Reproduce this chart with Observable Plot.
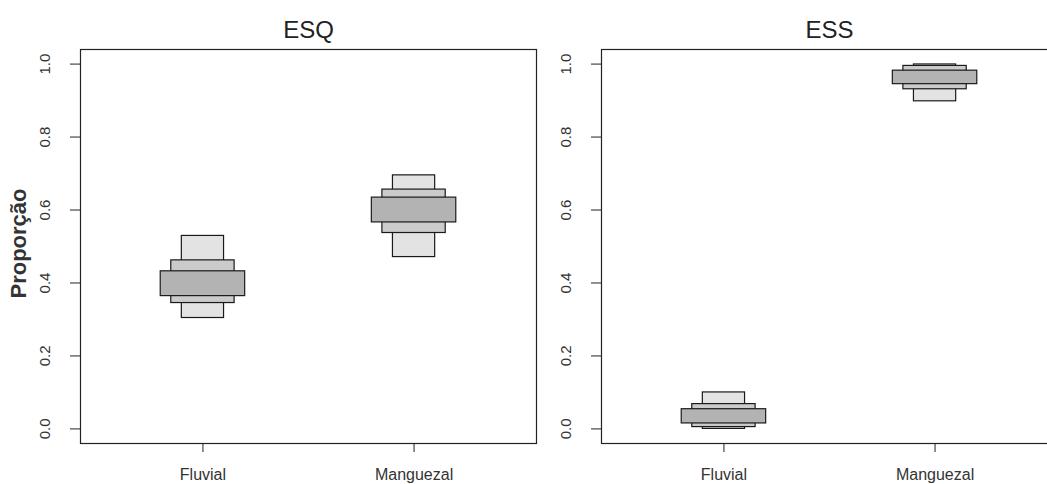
<!DOCTYPE html>
<html><head><meta charset="utf-8">
<script src="https://cdn.jsdelivr.net/npm/d3@7"></script>
<script src="https://cdn.jsdelivr.net/npm/@observablehq/plot@0.6"></script>
<style>
html,body{margin:0;padding:0;background:#fff}
body{overflow:hidden;width:1047px;height:484px;position:relative;font-family:"Liberation Sans",Arial,sans-serif}
#left,#right{position:absolute;top:0}
#left{left:0;width:560px}
#right{left:536px;width:521px}
svg{max-width:none !important}
</style></head><body><div id="left"></div><div id="right"></div>
<script>
// ---- data ----
const categories = ["Fluvial", "Manguezal"];
const panelTitles = ["ESQ", "ESS"];
const yLabel = "Proporção";
const yTicks = [0, 0.2, 0.4, 0.6, 0.8, 1.0];

// ESQ intervals (Fluvial, Manguezal)
const esqLow95  = [0.304, 0.471];
const esqHigh95 = [0.529, 0.695];
const esqLow80  = [0.345, 0.537];
const esqHigh80 = [0.462, 0.656];
const esqLow50  = [0.364, 0.566];
const esqHigh50 = [0.432, 0.634];

// ESS intervals (Fluvial, Manguezal)
const essLow95  = [0.000, 0.898];
const essHigh95 = [0.100, 0.999];
const essLow80  = [0.005, 0.931];
const essHigh80 = [0.068, 0.995];
const essLow50  = [0.015, 0.945];
const essHigh50 = [0.054, 0.982];

// ---- styles ----
const levels = [
  {half: 0.10, fill: "#e3e3e3"},
  {half: 0.15, fill: "#cbcbcb"},
  {half: 0.20, fill: "#b3b3b3"}
];
const FONT = "'Liberation Sans', Arial, Helvetica, sans-serif";

function rows(lows, highs, half) {
  return categories.map((c, i) => ({x1: i + 1 - half, x2: i + 1 + half, y1: lows[i], y2: highs[i]}));
}

function panel(title, lowsList, highsList, {width, marginLeft, marginRight, showYLabel}) {
  const marks = [];
  levels.forEach((lv, k) => {
    marks.push(Plot.rect(rows(lowsList[k], highsList[k], lv.half), {
      x1: "x1", x2: "x2", y1: "y1", y2: "y2",
      fill: lv.fill, stroke: "#1a1a1a", strokeWidth: 1.2
    }));
  });
  marks.push(Plot.frame({stroke: "#222", strokeWidth: 1.2}));
  marks.push(Plot.axisY({
    ticks: yTicks, tickFormat: d3.format(".1f"), tickSize: 10, tickPadding: 21,
    tickRotate: -90, fontSize: 15, label: null, stroke: "#222", fill: "#333"
  }));
  marks.push(Plot.axisX({
    ticks: [1, 2], tickFormat: d => categories[d - 1], tickSize: 9, tickPadding: 16,
    fontSize: 16, label: null, stroke: "#222", fill: "#333"
  }));
  marks.push(Plot.text([title], {text: d => d, frameAnchor: "top", dy: -19, fontSize: 24, fill: "#222", lineAnchor: "middle"}));
  if (showYLabel) {
    marks.push(Plot.text([yLabel], {text: d => d, frameAnchor: "left", textAnchor: "middle", dx: -62, dy: -3, rotate: -90, fontSize: 22, fontWeight: "bold", fill: "#333"}));
  }
  return Plot.plot({
    width, height: 484,
    marginLeft, marginRight, marginTop: 49, marginBottom: 41,
    style: {fontFamily: FONT, background: "transparent", overflow: "visible", maxWidth: "none"},
    x: {type: "linear", domain: [0.42, 2.58], axis: null},
    y: {domain: [-0.04, 1.04], axis: null},
    marks
  });
}

document.getElementById("left").append(panel(panelTitles[0],
  [esqLow95, esqLow80, esqLow50], [esqHigh95, esqHigh80, esqHigh50],
  {width: 560, marginLeft: 80, marginRight: 24, showYLabel: true}));
document.getElementById("right").append(panel(panelTitles[1],
  [essLow95, essLow80, essLow50], [essHigh95, essHigh80, essHigh50],
  {width: 521, marginLeft: 65, marginRight: 0, showYLabel: false}));
</script></body></html>
